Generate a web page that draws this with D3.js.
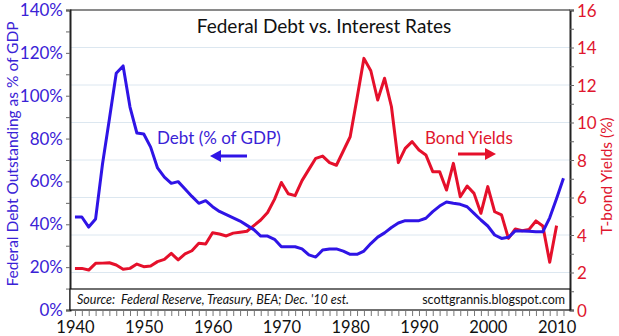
<!DOCTYPE html>
<html><head><meta charset="utf-8">
<script src="https://cdn.jsdelivr.net/npm/d3@7"></script>
<style>body{margin:0;background:#fff}svg{display:block}text{font-family:Lato,"DejaVu Sans",sans-serif}</style>
</head><body><svg id="c" width="619" height="336"></svg>
<script>
const years = d3.range(1940, 2012);
const debtPct = [43.4,43.4,38.7,42.5,68,89,110.5,113.9,94.7,82.6,82.1,76,66.3,62,59.1,59.9,56.5,53,49.8,51,48.2,46,44.5,43,41.5,39.5,37.5,34.5,34.5,33,29.5,29.5,29.5,28.5,25.7,24.7,28,28.5,28.5,27.5,26,26,27.5,31,34,36,38.5,40.6,41.7,41.7,41.7,42.8,45.9,48.5,50.4,49.8,49.3,48.2,45.1,42,39.2,35,33.4,33.9,36.9,36.9,36.7,36.5,36.5,43,52,61.5];
const bondYears = d3.range(1940, 2011);
const bondYield = [2.22,2.22,2.13,2.49,2.5,2.52,2.4,2.17,2.22,2.45,2.31,2.35,2.58,2.7,3.02,2.67,2.99,3.16,3.56,3.52,4.12,4.05,3.95,4.1,4.15,4.2,4.5,4.8,5.2,5.9,6.8,6.2,6.1,6.9,7.5,8.09,8.21,7.86,7.72,8.48,9.24,11.3,13.42,12.76,11.2,12.36,10.84,7.86,8.62,8.98,8.53,8.27,7.38,7.38,6.4,7.82,6.04,6.61,6.22,5.16,6.58,5.24,5.07,3.82,4.32,4.23,4.3,4.75,4.48,2.55,4.5];
const leftTicks = [0,20,40,60,80,100,120,140];
const rightTicks = [0,2,4,6,8,10,12,14,16];
const xTickLabels = [1940,1950,1960,1970,1980,1990,2000,2010];

const BLUE = "#2f14e6", BLUE_T = "#3a22d6", RED = "#e5102b", RED_T = "#e0162e";
const svg = d3.select("#c");
const L = 70, R = 570, T = 10, B = 310;
const x = d3.scaleLinear().domain([1939.28, 2011.95]).range([L, R]);
const yL = d3.scaleLinear().domain([0, 140]).range([B, T]);
const yR = d3.scaleLinear().domain([0, 16]).range([B, T]);

// gridlines (right axis every 2)
svg.append("g").selectAll("line").data(rightTicks.filter(d => d > 0 && d < 16)).join("line")
  .attr("x1", L).attr("x2", R).attr("y1", d => yR(d)).attr("y2", d => yR(d))
  .attr("stroke", "#dce7f0").attr("stroke-width", 1);

// top border
svg.append("line").attr("x1", L).attr("x2", R).attr("y1", T).attr("y2", T).attr("stroke", "#8a8a8a").attr("stroke-width", 2);

// left axis
const gL = svg.append("g").attr("transform", `translate(${L},0)`)
  .call(d3.axisLeft(yL).tickValues(d3.range(0, 141, 10)).tickSize(4).tickFormat(d => d % 20 === 0 ? d + "%" : ""));
gL.select(".domain").attr("stroke", "#222").attr("stroke-width", 2);
gL.selectAll(".tick line").attr("stroke", "#666");
gL.selectAll("text").attr("fill", BLUE_T).style("font-size", "17px").attr("x", -7).attr("dy", "0.32em");

// right axis
const gR = svg.append("g").attr("transform", `translate(${R},0)`)
  .call(d3.axisRight(yR).tickValues(d3.range(0, 17, 1)).tickSize(4).tickFormat(d => d % 2 === 0 ? d : ""));
gR.select(".domain").attr("stroke", "#222").attr("stroke-width", 2);
gR.selectAll(".tick line").attr("stroke", "#666");
gR.selectAll("text").attr("fill", RED_T).style("font-size", "17px").attr("x", 7).attr("dy", "0.36em");

// bottom axis
const gB = svg.append("g").attr("transform", `translate(0,${B + 1})`)
  .call(d3.axisBottom(x).tickValues(d3.range(1940, 2012)).tickSize(5).tickFormat(d => xTickLabels.includes(d) ? d : ""));
gB.select(".domain").remove();
gB.selectAll(".tick line").attr("stroke", "#777");
gB.selectAll("text").attr("fill", "#111").style("font-size", "16.5px").attr("y", 10);

// source box
svg.append("rect").attr("x", L).attr("y", 289).attr("width", R - L).attr("height", 21)
  .attr("fill", "#fff").attr("stroke", "#111").attr("stroke-width", 1.2);
svg.append("text").attr("x", 77).attr("y", 304).style("font-size", "12.5px").style("font-style", "italic").attr("fill", "#111")
  .attr("xml:space", "preserve").text("Source:  Federal Reserve, Treasury, BEA; Dec. '10 est.");
svg.append("text").attr("x", 565).attr("y", 304).attr("text-anchor", "end").style("font-size", "12.5px").attr("fill", "#111")
  .text("scottgrannis.blogspot.com");

// lines
svg.append("path").datum(bondYears.map((d, i) => [d, bondYield[i]]))
  .attr("fill", "none").attr("stroke", RED).attr("stroke-width", 3).attr("stroke-linejoin", "round")
  .attr("d", d3.line().x(d => x(d[0])).y(d => yR(d[1])));
svg.append("path").datum(years.map((d, i) => [d, debtPct[i]]))
  .attr("fill", "none").attr("stroke", BLUE).attr("stroke-width", 3).attr("stroke-linejoin", "round")
  .attr("d", d3.line().x(d => x(d[0])).y(d => yL(d[1])));

// title
svg.append("text").attr("x", 324).attr("y", 33).attr("text-anchor", "middle").style("font-size", "19px").attr("fill", "#111")
  .text("Federal Debt vs. Interest Rates");

// axis titles
svg.append("text").attr("transform", "translate(18,154) rotate(-90)").attr("text-anchor", "middle")
  .style("font-size", "15.5px").attr("fill", BLUE_T).text("Federal Debt Outstanding as % of GDP");
svg.append("text").attr("transform", "translate(612,176) rotate(-90)").attr("text-anchor", "middle")
  .style("font-size", "15.5px").attr("fill", RED_T).text("T-bond Yields (%)");

// annotations
svg.append("text").attr("x", 157).attr("y", 144).style("font-size", "17px").attr("fill", BLUE_T).text("Debt (% of GDP)");
svg.append("text").attr("x", 425).attr("y", 144).style("font-size", "17px").attr("fill", RED_T).text("Bond Yields");
function arrow(x1, x2, y, c) {
  const dir = Math.sign(x2 - x1);
  svg.append("line").attr("x1", x1).attr("x2", x2 - dir * 8).attr("y1", y).attr("y2", y).attr("stroke", c).attr("stroke-width", 3);
  svg.append("path").attr("d", `M${x2},${y} L${x2 - dir * 11},${y - 6} L${x2 - dir * 11},${y + 6} Z`).attr("fill", c);
}
arrow(247, 210, 156, BLUE);
arrow(458, 496, 154, RED);
</script></body></html>
